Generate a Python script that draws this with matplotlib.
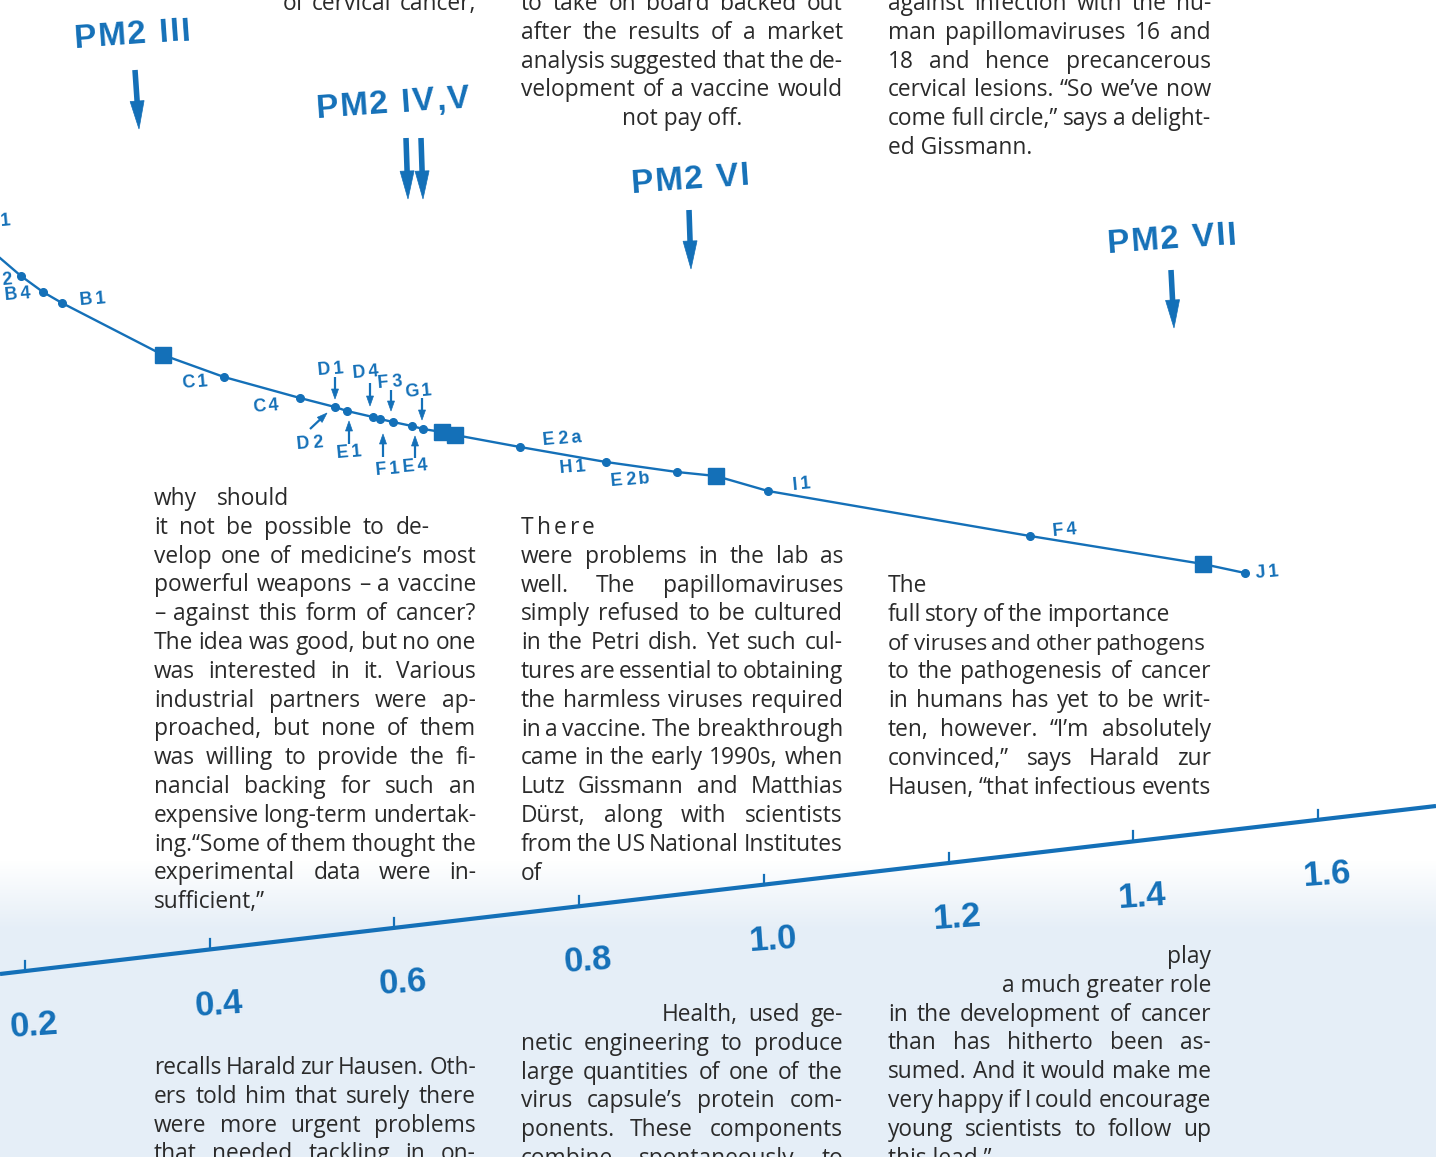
import numpy as np
import matplotlib
matplotlib.use("Agg")
import matplotlib.pyplot as plt
from matplotlib import font_manager, ft2font
from matplotlib.font_manager import FontProperties
from matplotlib.patches import Polygon

# ---- data (page pixel units) ----
curve_start = (0, 258)
dot_x = [21, 43, 62, 224, 300, 335, 347, 373, 380, 393, 412, 423, 520, 606, 677, 768, 1030, 1245]
dot_y = [276, 292, 303, 377, 398, 407, 411, 417, 419, 422, 426, 429, 447, 462, 472, 491, 536, 573]
square_x = [163, 442, 455, 716, 1203]
square_y = [355, 432, 435, 476, 564]

band_labels = ["A 1", "B 2", "B 4", "B 1", "C 1", "C 4", "D 1", "D 4", "F 3", "G 1",
               "D 2", "E 1", "F 1", "E 4", "E 2 a", "H 1", "E 2 b", "I 1", "F 4", "J 1"]
band_label_x = [-15, -14, 5, 80, 182, 253, 318, 353, 378, 405,
                297, 337, 376, 403, 543, 560, 611, 793, 1053, 1256]
band_label_y = [227, 286, 300, 305, 388, 412, 375, 378, 388, 397,
                449, 458, 475, 472, 445, 473, 486, 490, 536, 578]

small_arrows = [((335, 377), (335, 399)), ((370, 383), (370, 406)), ((391, 390), (391, 411)),
                ((422, 398), (422, 420)), ((310, 429), (327, 413)), ((349, 444), (349, 421)),
                ((383, 457), (383, 434)), ((415, 458), (415, 436))]

pm2_labels = ["PM2 III", "PM2 IV,V", "PM2 VI", "PM2 VII"]
pm2_label_xy = [(75, 48), (317, 118), (632, 193), (1108, 253)]
pm2_arrows = [[((135, 70), (139, 129))],
              [((406, 138), (408, 199)), ((421, 138), (423, 199))],
              [((689, 210), (691, 269))],
              [((1171, 270), (1174, 328))]]

scale_values = [0.2, 0.4, 0.6, 0.8, 1.0, 1.2, 1.4, 1.6]
scale_labels = ["0.2", "0.4", "0.6", "0.8", "1.0", "1.2", "1.4", "1.6"]
axis_p0 = (0, 974)      # start of the scale line
axis_p1 = (1436, 806)   # end of the scale line
tick_x0, tick_dx = 25, 184.7   # x of 0.2 tick, px per 0.2

BLUE = "#1470b8"
INK = "#2a2a2a"
W, H = 1436, 1157

fig = plt.figure(figsize=(W / 100, H / 100), dpi=100)
ax = fig.add_axes([0, 0, 1, 1])
ax.set_xlim(0, W)
ax.set_ylim(H, 0)
ax.axis("off")

# pale blue paper at the bottom
grad = np.ones((300, 1, 4))
grad[..., 0], grad[..., 1], grad[..., 2] = 0.90, 0.935, 0.97
grad[..., 3] = np.clip(np.linspace(0, 300, 300) / 70, 0, 1)[:, None]
ax.imshow(grad, extent=[0, W, H, 860], aspect="auto", zorder=0)

# ---- glyph advance helper ----
_fonts = {}


def advance(s, prop):
    path = font_manager.findfont(prop)
    f = _fonts.get(path)
    if f is None:
        f = ft2font.FT2Font(path, hinting_factor=1)
        _fonts[path] = f
    f.set_size(prop.get_size_in_points(), 100)
    tot = 0
    for ch in s:
        g = f.load_char(ord(ch), flags=ft2font.LoadFlags.NO_HINTING)
        tot += g.linearHoriAdvance / 65536
    return tot


def spaced(x, y, s, prop, track, rot, color, z=5):
    a = np.deg2rad(rot)
    pos = 0
    for ch in s:
        if ch != " ":
            ax.text(x + pos * np.cos(a), y - pos * np.sin(a), ch, fontproperties=prop,
                    color=color, rotation=rot, rotation_mode="anchor",
                    ha="left", va="baseline", zorder=z)
        pos += advance(ch, prop) + track


def arrow(tail, tip, lw, head_w, head_l):
    t, p = np.array(tail, float), np.array(tip, float)
    d = (p - t) / np.hypot(*(p - t))
    n = np.array([-d[1], d[0]])
    base = p - d * head_l
    ax.plot([t[0], base[0] + d[0] * 2], [t[1], base[1] + d[1] * 2], color=BLUE, lw=lw,
            solid_capstyle="butt", zorder=4)
    ax.add_patch(Polygon([p, base + n * head_w / 2, base - n * head_w / 2], closed=True,
                         facecolor=BLUE, edgecolor=BLUE, lw=0.5, zorder=4))


# ---- curve ----
line_x = [curve_start[0]] + dot_x + square_x
line_y = [curve_start[1]] + dot_y + square_y
order = np.argsort(line_x)
ax.plot(np.array(line_x)[order], np.array(line_y)[order], color=BLUE, lw=1.7, zorder=3)
ax.plot(dot_x, dot_y, "o", color=BLUE, ms=5.5, zorder=4)
ax.plot(square_x, square_y, "s", color=BLUE, ms=11, zorder=4)

lab_prop = FontProperties(family="Liberation Sans", weight="bold", size=13)
for s, x, y in zip(band_labels, band_label_x, band_label_y):
    spaced(x, y, s.replace(" ", ""), lab_prop, 3.2, 5, BLUE)

for tail, tip in small_arrows:
    arrow(tail, tip, 1.6, 7, 10)

pm_prop = FontProperties(family="Liberation Sans", weight="bold", size=24)
for s, (x, y), arrs in zip(pm2_labels, pm2_label_xy, pm2_arrows):
    spaced(x, y, s, pm_prop, 2.0, 4, BLUE)
    for tail, tip in arrs:
        arrow(tail, tip, 4.0, 14, 28)

# ---- scale line ----
ax.plot([axis_p0[0], axis_p1[0]], [axis_p0[1], axis_p1[1]], color=BLUE, lw=3, zorder=3,
        solid_capstyle="butt")
slope = (axis_p1[1] - axis_p0[1]) / (axis_p1[0] - axis_p0[0])
num_prop = FontProperties(family="Liberation Sans", weight="bold", size=25)
for v, lab in zip(scale_values, scale_labels):
    tx = tick_x0 + (v - 0.2) / 0.2 * tick_dx
    ty = axis_p0[1] + slope * tx
    ax.plot([tx, tx], [ty, ty - 10], color=BLUE, lw=1.6, zorder=3)
    ax.text(tx + 9, ty + 55, lab, fontproperties=num_prop, color=BLUE,
            ha="center", va="center", rotation=4, zorder=5)

# ---- body text ----
body = FontProperties(family="Open Sans", size=16.4)
LEAD = 28.8


def set_line(text, mode, x0, x1, y):
    words = text.split()
    if mode == "s":
        spaced(x0, y, text, body, 3.0, 0, INK, z=6)
        return
    if mode == "l":
        ax.text(x0, y, text, fontproperties=body, color=INK, ha="left", va="baseline", zorder=6)
        return
    if mode == "r":
        ax.text(x1, y, text, fontproperties=body, color=INK, ha="right", va="baseline", zorder=6)
        return
    if mode == "c":
        ax.text((x0 + x1) / 2, y, text, fontproperties=body, color=INK, ha="center",
                va="baseline", zorder=6)
        return
    prop = body.copy()
    widths = [advance(w, prop) for w in words]
    gaps = max(len(words) - 1, 1)
    room = x1 - x0
    if sum(widths) + gaps * 3.5 > room:
        k = (room - gaps * 3.5) / sum(widths)
        prop.set_size(body.get_size_in_points() * k)
        widths = [advance(w, prop) for w in words]
    gap = (room - sum(widths)) / gaps
    x = x0
    for i, (w, wd) in enumerate(zip(words, widths)):
        if i == len(words) - 1 and len(words) > 1:
            ax.text(x1, y, w, fontproperties=prop, color=INK, ha="right", va="baseline",
                    zorder=6)
        else:
            ax.text(x, y, w, fontproperties=prop, color=INK, ha="left", va="baseline",
                    zorder=6)
        x += wd + gap


def block(x0, x1, y0, lines):
    for i, ln in enumerate(lines):
        text, mode = ln[0], ln[1]
        a = ln[2] if len(ln) > 2 else x0
        b = ln[3] if len(ln) > 3 else x1
        set_line(text, mode, a, b, y0 + i * LEAD)


C1, C2, C3 = (154, 476), (521, 843), (888, 1211)

block(283, 476, 10, [("of cervical cancer,", "j")])
block(*C2, 10, [
    ("to take on board backed out", "j"),
    ("after the results of a market", "j"),
    ("analysis suggested that the de-", "j"),
    ("velopment of a vaccine would", "j"),
    ("not pay off.", "c"),
])
block(*C3, 10, [
    ("against infection with the hu-", "j"),
    ("man papillomaviruses 16 and", "j"),
    ("18 and hence precancerous", "j"),
    ("cervical lesions. “So we’ve now", "j"),
    ("come full circle,” says a delight-", "j"),
    ("ed Gissmann.", "l"),
])
block(*C1, 505, [
    ("why should", "j", 154, 289),
    ("it not be possible to de-", "j", 154, 430),
    ("velop one of medicine’s most", "j"),
    ("powerful weapons – a vaccine", "j"),
    ("– against this form of cancer?", "j"),
    ("The idea was good, but no one", "j"),
    ("was interested in it. Various", "j"),
    ("industrial partners were ap-", "j"),
    ("proached, but none of them", "j"),
    ("was willing to provide the fi-", "j"),
    ("nancial backing for such an", "j"),
    ("expensive long-term undertak-", "j"),
    ("ing.“Some of them thought the", "j"),
    ("experimental data were in-", "j"),
    ("sufficient,”", "l"),
])
block(*C1, 1074, [
    ("recalls Harald zur Hausen. Oth-", "j"),
    ("ers told him that surely there", "j"),
    ("were more urgent problems", "j"),
    ("that needed tackling in on-", "j"),
])
block(*C2, 534, [
    ("There", "s"),
    ("were problems in the lab as", "j"),
    ("well. The papillomaviruses", "j"),
    ("simply refused to be cultured", "j"),
    ("in the Petri dish. Yet such cul-", "j"),
    ("tures are essential to obtaining", "j"),
    ("the harmless viruses required", "j"),
    ("in a vaccine. The breakthrough", "j"),
    ("came in the early 1990s, when", "j"),
    ("Lutz Gissmann and Matthias", "j"),
    ("Dürst, along with scientists", "j"),
    ("from the US National Institutes", "j"),
    ("of", "l"),
])
block(*C2, 1021, [
    ("Health, used ge-", "j", 662, 843),
    ("netic engineering to produce", "j"),
    ("large quantities of one of the", "j"),
    ("virus capsule’s protein com-", "j"),
    ("ponents. These components", "j"),
    ("combine spontaneously to", "j"),
])
block(*C3, 592, [
    ("The", "l"),
    ("full story of the importance", "j", 888, 1170),
    ("of viruses and other pathogens", "j", 888, 1205),
    ("to the pathogenesis of cancer", "j"),
    ("in humans has yet to be writ-", "j"),
    ("ten, however. “I’m absolutely", "j"),
    ("convinced,” says Harald zur", "j"),
    ("Hausen, “that infectious events", "j"),
])
block(*C3, 963, [
    ("play", "r"),
    ("a much greater role", "r"),
    ("in the development of cancer", "j"),
    ("than has hitherto been as-", "j"),
    ("sumed. And it would make me", "j"),
    ("very happy if I could encourage", "j"),
    ("young scientists to follow up", "j"),
    ("this lead.”", "l"),
])

fig.savefig("out.png", dpi=100)
